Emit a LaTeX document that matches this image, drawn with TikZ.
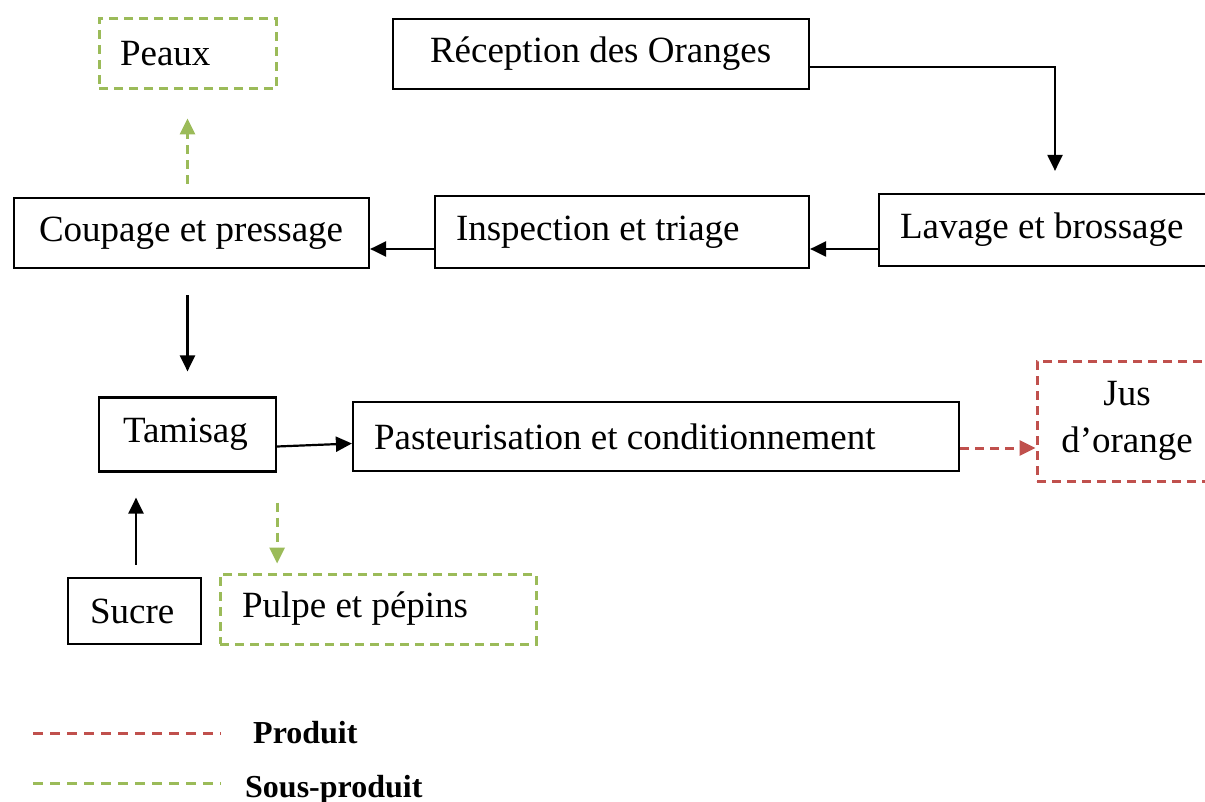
\documentclass[tikz,border=0pt]{standalone}
\usepackage{fontspec}
\setmainfont{Liberation Serif}
\usetikzlibrary{arrows.meta}
\definecolor{prodred}{HTML}{C0504D}
\definecolor{subgreen}{HTML}{9BBB59}
\newcommand\lefttxt[2]{\makebox[#1][l]{#2}}
\begin{document}
\begin{tikzpicture}[x=1pt,y=-1pt,
  every node/.style={font=\fontsize{37}{47}\selectfont, inner ysep=0pt},
  box/.style={draw=black, line width=2.2pt},
  subbox/.style={draw=subgreen, line width=3pt, dash pattern=on 9pt off 6pt},
  prodbox/.style={draw=prodred, line width=3pt, dash pattern=on 9pt off 6pt},
  arr/.style={draw=black, line width=2.2pt, -{Triangle[length=16pt,width=15pt]}},
  subarr/.style={draw=subgreen, line width=3pt, dash pattern=on 9pt off 6pt, -{Triangle[length=16pt,width=15pt,fill=subgreen]}},
  prodarr/.style={draw=prodred, line width=3pt, dash pattern=on 9pt off 6pt, -{Triangle[length=16pt,width=15pt,fill=prodred]}},
  legtext/.style={font=\fontsize{32}{38}\selectfont\bfseries, anchor=base west, inner sep=0pt}
]
\useasboundingbox (0,0) rectangle (1205,802);

\node[subbox, minimum width=177pt, minimum height=70pt, inner xsep=21pt] (peaux) at (187.5,54) {\lefttxt{135pt}{Peaux}};
\node[box, minimum width=416pt, minimum height=70pt, inner xsep=37pt] (recep) at (601,54) {\lefttxt{342pt}{Réception des Oranges}};
\node[box, minimum width=355pt, minimum height=70pt, inner xsep=25pt] (coup) at (191.5,233) {\lefttxt{305pt}{Coupage et pressage}};
\node[box, minimum width=374pt, minimum height=72pt, inner xsep=21pt] (insp) at (622,232) {\lefttxt{332pt}{Inspection et triage}};
\node[box, minimum width=336pt, minimum height=72pt, inner xsep=21pt] (lav) at (1047,230) {\lefttxt{294pt}{Lavage et brossage}};
\node[box, minimum width=177pt, minimum height=74pt, inner xsep=24pt] (tamis) at (187.5,434.5) {\lefttxt{129pt}{Tamisag}};
\node[box, minimum width=606pt, minimum height=69pt, inner xsep=21pt] (past) at (656,436.5) {\lefttxt{564pt}{Pasteurisation et conditionnement}};
\node[prodbox, minimum width=180pt, minimum height=120pt, align=center] (jus) at (1127,421) {Jus\\d’orange};
\node[box, minimum width=133pt, minimum height=66pt, inner xsep=22pt] (sucre) at (134.5,611) {\lefttxt{89pt}{Sucre}};
\node[subbox, minimum width=316pt, minimum height=70pt, inner xsep=22pt] (pulpe) at (378,609) {\lefttxt{272pt}{Pulpe et pépins}};

% connectors
\draw[arr] ([yshift=-13pt]recep.east) -| ([xshift=8pt]lav.north) [shorten >=22pt];
\draw[arr] ([yshift=-19pt]lav.west) -- ([yshift=-19pt]lav.west -| insp.east);
\draw[arr] ([yshift=-17pt]insp.west) -- ([yshift=-17pt]insp.west -| coup.east);
\draw[subarr, shorten <=13pt, shorten >=28pt] (coup.north -| peaux.south) -- (peaux.south);
\draw[arr, shorten <=26pt, shorten >=25pt] (coup.south -| tamis.north) -- (tamis.north);
\draw[arr] ([yshift=-12pt]tamis.east) -- ([yshift=-7pt]past.west);
\draw[prodarr] ([yshift=-11.5pt]past.east) -- ([yshift=-11.5pt]past.east -| jus.west);
\draw[arr, shorten <=12pt, shorten >=25pt] ([xshift=1.5pt]sucre.north) -- ([xshift=1.5pt]sucre.north |- tamis.south);
\draw[subarr, shorten <=30pt, shorten >=9pt] (tamis.south east) -- (tamis.south east |- pulpe.north);

% legend
\coordinate (lr1) at (33,733);
\coordinate (lr2) at (221,733);
\coordinate (lg1) at (33,783);
\coordinate (lg2) at (221,783);
\draw[draw=prodred, line width=3pt, dash pattern=on 10pt off 7pt] (lr1) -- (lr2);
\draw[draw=subgreen, line width=3pt, dash pattern=on 10pt off 7pt] (lg1) -- (lg2);
\node[legtext] (lprod) at (253,743) {Produit};
\node[legtext] (lsous) at (245,797) {Sous-produit};
\end{tikzpicture}
\end{document}
